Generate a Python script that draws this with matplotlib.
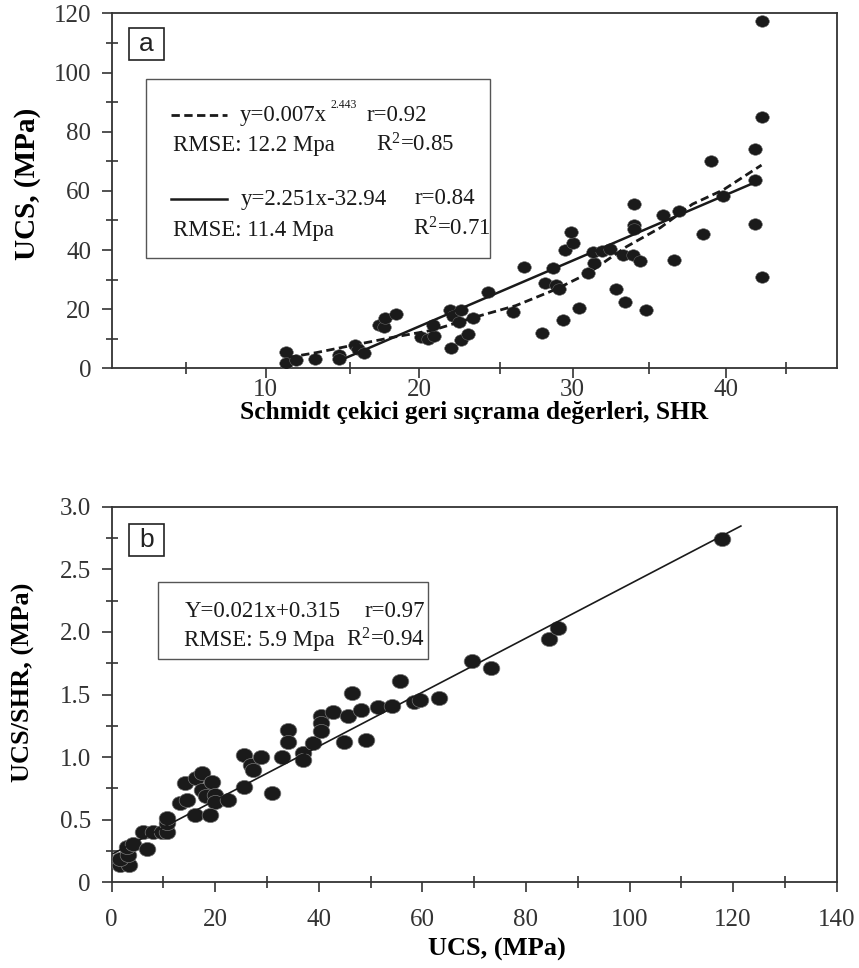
import matplotlib
matplotlib.use("Agg")
import matplotlib.pyplot as plt
from matplotlib.patches import Rectangle
from matplotlib.path import Path
from matplotlib.transforms import Affine2D

# Panel a: Schmidt hammer rebound (SHR) vs UCS
a_shr = [11.3, 11.3, 12.0, 13.2, 14.8, 14.8, 15.8, 16.0, 16.4, 17.4, 17.7, 17.8, 18.5,
         20.1, 20.6, 21.0, 20.9, 22.1, 22.0, 22.2, 22.7, 22.6, 22.7, 23.2, 23.5, 24.5,
         26.1, 26.8, 28.0, 28.2, 28.7, 28.9, 29.1, 29.4, 29.5, 30.0, 29.9, 30.4, 31.0,
         31.4, 31.3, 31.9, 32.4, 32.8, 33.4, 33.3, 33.9, 34.0, 34.0, 34.0, 34.4, 34.8,
         35.9, 36.9, 36.6, 38.5, 39.0, 39.8, 41.9, 41.9, 41.9, 42.3, 42.3, 42.3]
a_ucs = [5.6, 1.9, 2.8, 3.2, 4.5, 3.0, 7.9, 6.6, 5.1, 14.7, 14.0, 16.9, 18.3,
         10.5, 10.0, 10.9, 14.7, 7.0, 19.7, 17.7, 19.7, 15.8, 9.6, 11.6, 16.9, 25.9,
         19.1, 34.3, 11.8, 28.9, 33.8, 28.2, 26.8, 16.3, 40.0, 42.3, 46.2, 20.3, 32.1,
         35.5, 39.2, 39.8, 40.2, 26.9, 22.5, 38.3, 38.3, 55.5, 48.4, 47.0, 36.4, 19.7,
         51.8, 53.3, 36.6, 45.4, 70.1, 58.2, 74.1, 63.7, 48.7, 30.8, 85.1, 117.4]

# fitted curves
pow_x = [11.5, 13.3, 15.4, 18.3, 20.9, 23.7, 26.3, 28.9, 31.0, 33.5, 35.7, 37.8, 39.8, 42.3]
pow_y = [3.7, 5.3, 7.5, 10.5, 12.9, 17.4, 21.2, 26.7, 32.1, 41.1, 47.5, 55.5, 60.3, 68.7]
lin_x = [14.9, 41.85]
lin_y = [2.8, 62.8]

# Panel b: UCS vs UCS/SHR
b_ucs = [1.6, 3.4, 1.6, 3.2, 2.9, 4.2, 6.75, 6.1, 8.0, 9.65, 10.6, 10.6, 10.6, 13.2,
         14.6, 14.2, 16.0, 16.2, 17.4, 17.4, 19.3, 18.3, 19.9, 19.9, 19.0, 22.5, 25.5,
         25.5, 27.0, 27.2, 28.8, 30.9, 32.8, 34.1, 34.1, 36.9, 36.9, 38.8, 40.5, 40.5,
         40.5, 42.8, 44.9, 45.7, 46.5, 48.2, 49.2, 51.5, 54.1, 55.6, 58.4, 59.6, 63.2,
         69.6, 73.2, 84.5, 86.2, 117.8]
b_ratio = [0.14, 0.14, 0.19, 0.22, 0.28, 0.31, 0.27, 0.40, 0.40, 0.40, 0.40, 0.47, 0.51,
           0.63, 0.66, 0.79, 0.54, 0.83, 0.87, 0.74, 0.80, 0.69, 0.70, 0.64, 0.54, 0.66,
           1.02, 0.76, 0.94, 0.90, 1.00, 0.71, 1.00, 1.22, 1.12, 1.03, 0.98, 1.11, 1.33,
           1.27, 1.21, 1.36, 1.12, 1.33, 1.51, 1.38, 1.14, 1.40, 1.41, 1.61, 1.44, 1.46,
           1.47, 1.77, 1.71, 1.94, 2.03, 2.74]
b_line_x = [0.3, 121.5]
b_line_y = [0.23, 2.846]

serif = "Liberation Serif"
sans = "Liberation Sans"
ink = "#1a1a1a"
plt.rcParams["font.family"] = serif
plt.rcParams["mathtext.fontset"] = "custom"
plt.rcParams["mathtext.rm"] = serif
plt.rcParams["mathtext.it"] = serif
plt.rcParams["mathtext.default"] = "regular"

# slightly flattened dot
ell = Path.unit_circle().transformed(Affine2D().scale(1.0, 0.85))

fig = plt.figure(figsize=(8.59, 9.68), dpi=100)
ax1 = fig.add_axes([0.1304, 0.6195, 0.8437, 0.3667])
ax2 = fig.add_axes([0.1300, 0.0885, 0.8440, 0.3880])


def style_axes(ax, xpad):
    for s in ax.spines.values():
        s.set_color("#333333")
        s.set_linewidth(1.3)
    ax.tick_params(which="major", direction="out", length=7, width=1.2,
                   color="#333333", labelsize=18, labelcolor="#333333")
    ax.tick_params(which="minor", direction="inout", length=8, width=1.2, color="#333333")
    ax.tick_params(axis="y", which="major", pad=8)
    ax.tick_params(axis="x", which="major", pad=xpad)


# ---------- panel a ----------
ax1.scatter(a_shr, a_ucs, s=9.8 ** 2, marker=ell, color=ink, edgecolors="#666666",
            linewidths=0.4, zorder=3)
ax1.plot(pow_x, pow_y, color=ink, lw=2.0, ls=(0, (3, 1.6)), zorder=4)
ax1.plot(lin_x, lin_y, color=ink, lw=1.8, zorder=4)
ax1.set_xlim(0, 47.2)
ax1.set_ylim(0, 120)
ax1.set_xticks([10, 20, 30, 40])
ax1.set_xticks([4.8, 15.5, 25.3, 35.0, 43.9], minor=True)
ax1.set_yticks([0, 20, 40, 60, 80, 100, 120])
ax1.set_yticks([10, 30, 50, 70, 90, 110], minor=True)
style_axes(ax1, 1)
ax1.set_xlabel("Schmidt çekici geri sıçrama değerleri, SHR", fontsize=18.3, fontweight="bold")
ax1.xaxis.set_label_coords(0.5, -0.125)
ax1.xaxis.label.set_va("center")
ax1.set_ylabel("UCS, (MPa)", fontsize=21, fontweight="bold")
ax1.yaxis.set_label_coords(-0.117, 0.52)
ax1.yaxis.label.set_va("center")

ax1.add_patch(Rectangle((0.047, 0.3115), 0.474, 0.5025, transform=ax1.transAxes,
                        fill=False, ec="#555555", lw=1.0, zorder=5))
ax1.add_patch(Rectangle((0.0237, 0.868), 0.048, 0.090, transform=ax1.transAxes,
                        fill=False, ec="#222222", lw=1.2, zorder=5))
ax1.text(0.0477, 0.913, "a", transform=ax1.transAxes, ha="center", va="center",
         fontsize=19, family=sans, color="#222222")

fs = 16.5
ax1.plot([0.081, 0.159], [0.7135, 0.7135], transform=ax1.transAxes, color=ink,
         lw=2.0, ls=(0, (3, 1.6)))
ax1.text(0.1766, 0.7135, "y=0.007x", transform=ax1.transAxes, fontsize=fs, va="center", color=ink)
ax1.text(0.3008, 0.742, "2.443", transform=ax1.transAxes, fontsize=8.5, va="center", color=ink)
ax1.text(0.3515, 0.7135, "r=0.92", transform=ax1.transAxes, fontsize=fs, va="center", color=ink)
ax1.text(0.0846, 0.629, "RMSE: 12.2 Mpa", transform=ax1.transAxes, fontsize=fs, va="center", color=ink)
ax1.text(0.3643, 0.629, r"R$^{2}$=0.85", transform=ax1.transAxes, fontsize=fs, va="center", color=ink)
ax1.plot([0.081, 0.159], [0.476, 0.476], transform=ax1.transAxes, color=ink, lw=1.8)
ax1.text(0.1776, 0.476, "y=2.251x-32.94", transform=ax1.transAxes, fontsize=fs, va="center", color=ink)
ax1.text(0.418, 0.479, "r=0.84", transform=ax1.transAxes, fontsize=fs, va="center", color=ink)
ax1.text(0.0846, 0.3896, "RMSE: 11.4 Mpa", transform=ax1.transAxes, fontsize=fs, va="center", color=ink)
ax1.text(0.415, 0.394, r"R$^{2}$=0.71", transform=ax1.transAxes, fontsize=fs, va="center", color=ink)

# ---------- panel b ----------
ax2.scatter(b_ucs, b_ratio, s=12 ** 2, marker=ell, color=ink, edgecolors="#777777",
            linewidths=0.5, zorder=3)
ax2.plot(b_line_x, b_line_y, color=ink, lw=1.2, zorder=4)
ax2.set_xlim(0, 140)
ax2.set_ylim(0, 3.0)
ax2.set_xticks(range(0, 141, 20))
ax2.set_xticks(range(10, 140, 20), minor=True)
ax2.set_yticks([0, 0.5, 1.0, 1.5, 2.0, 2.5, 3.0])
ax2.set_yticklabels(["0", "0.5", "1.0", "1.5", "2.0", "2.5", "3.0"])
ax2.set_yticks([0.25, 0.75, 1.25, 1.75, 2.25, 2.75], minor=True)
style_axes(ax2, 12)
ax2.set_xlabel("UCS, (MPa)", fontsize=19, fontweight="bold")
ax2.xaxis.set_label_coords(0.531, -0.18)
ax2.xaxis.label.set_va("center")
ax2.set_ylabel("UCS/SHR, (MPa)", fontsize=19, fontweight="bold")
ax2.yaxis.set_label_coords(-0.122, 0.533)
ax2.yaxis.label.set_va("center")

ax2.add_patch(Rectangle((0.0643, 0.5937), 0.3724, 0.2066, transform=ax2.transAxes,
                        fill=False, ec="#555555", lw=1.0, zorder=5))
ax2.add_patch(Rectangle((0.0243, 0.869), 0.048, 0.085, transform=ax2.transAxes,
                        fill=False, ec="#222222", lw=1.2, zorder=5))
ax2.text(0.0483, 0.911, "b", transform=ax2.transAxes, ha="center", va="center",
         fontsize=19, family=sans, color="#222222")
ax2.text(0.1001, 0.7205, "Y=0.021x+0.315", transform=ax2.transAxes, fontsize=fs, va="center", color=ink)
ax2.text(0.432, 0.7205, "r=0.97", transform=ax2.transAxes, fontsize=fs, va="center", ha="right", color=ink)
ax2.text(0.1001, 0.645, "RMSE: 5.9 Mpa", transform=ax2.transAxes, fontsize=fs, va="center", color=ink)
ax2.text(0.432, 0.645, r"R$^{2}$=0.94", transform=ax2.transAxes, fontsize=fs, va="center", ha="right", color=ink)

fig.savefig("out.png", dpi=100)
